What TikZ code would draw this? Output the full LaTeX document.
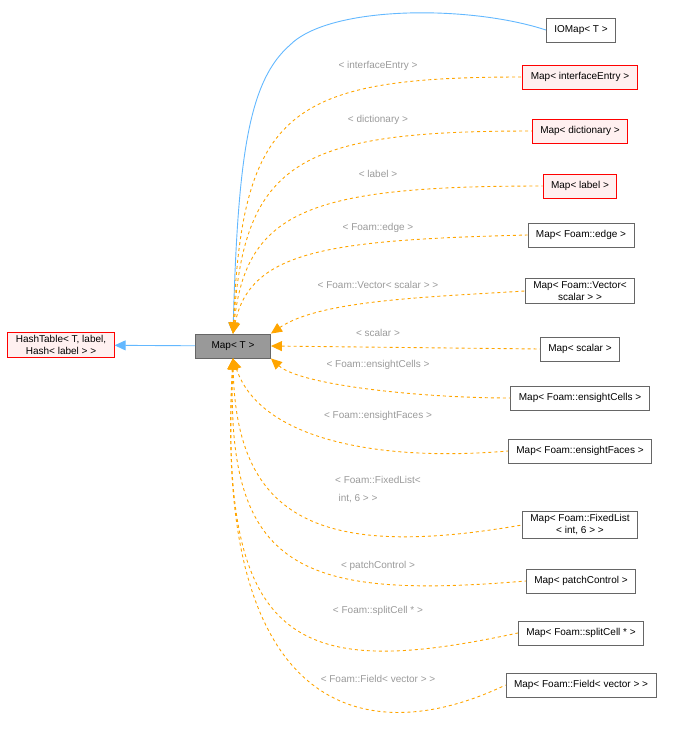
\documentclass[tikz,border=0pt]{standalone}
\usepackage{fontspec}
\setmainfont{Liberation Sans}
\usetikzlibrary{arrows.meta}
\definecolor{redfill}{HTML}{FFF0F0}
\definecolor{edgeor}{HTML}{FFA500}
\definecolor{edgeblue}{HTML}{63B8FF}
\definecolor{lblgray}{HTML}{9A9A9A}
\tikzset{
  cls/.style={draw=black!60,fill=white,line width=0.9pt,font=\fontsize{10}{12}\selectfont,inner xsep=8pt,inner ysep=3pt,minimum height=24pt,align=center},
  redcls/.style={cls,draw=red,fill=redfill},
  tmpl/.style={draw=edgeor,line width=0.9pt,dashed,{Triangle[width=10pt,length=11pt,fill=edgeor]}-},
  lbl/.style={text=lblgray,font=\fontsize{10}{12}\selectfont},
}
\begin{document}
\begin{tikzpicture}[x=1pt,y=-1pt]
\useasboundingbox (0,0) rectangle (683,731);
\node[redcls] (hash) at (61,345) {HashTable< T, label,\\Hash< label > >};
\node[cls,fill=black!40,draw=black!60,minimum width=75pt] (map) at (233,346) {Map< T >};
\node[cls] (iomap) at (581,30) {IOMap< T >};
\node[redcls] (ie) at (580,77) {Map< interfaceEntry >};
\node[redcls] (dict) at (580,131) {Map< dictionary >};
\node[redcls] (label) at (580,186) {Map< label >};
\node[cls] (edge) at (581,235) {Map< Foam::edge >};
\node[cls] (vec) at (580,291) {Map< Foam::Vector<\\scalar > >};
\node[cls] (scal) at (580,349) {Map< scalar >};
\node[cls] (cells) at (580,398) {Map< Foam::ensightCells >};
\node[cls] (faces) at (580,451) {Map< Foam::ensightFaces >};
\node[cls] (fixed) at (580,525) {Map< Foam::FixedList\\< int, 6 > >};
\node[cls] (patch) at (581,581) {Map< patchControl >};
\node[cls] (split) at (581,633) {Map< Foam::splitCell * >};
\node[cls] (field) at (581,685) {Map< Foam::Field< vector > >};

\draw[edgeblue,line width=0.9pt,{Triangle[width=10pt,length=11pt,fill=edgeblue]}-] (hash) -- (map);
\draw[edgeblue,line width=0.9pt,{Triangle[width=10pt,length=11pt,fill=edgeblue]}-] (map.north)
  .. controls (238,150) and (250,80) .. (290,45) .. controls (330,5) and (470,5) .. (iomap.west);
\draw[tmpl] (map.north) .. controls (242,110) and (290,77) .. (ie.west);
\draw[tmpl] (map.north) .. controls (244,160) and (300,131) .. (dict.west);
\draw[tmpl] (map.north) .. controls (246,210) and (310,186) .. (label.west);
\draw[tmpl] (map.north) .. controls (250,250) and (330,240) .. (edge.west);
\draw[tmpl] (map.north east) .. controls (320,300) and (430,297) .. (vec.west);
\draw[tmpl] (map.east) -- (scal.west);
\draw[tmpl] (map.south east) .. controls (300,385) and (420,398) .. (cells.west);
\draw[tmpl] (map.south) .. controls (260,440) and (380,462) .. (faces.west);
\draw[tmpl] (map.south) .. controls (236,520) and (320,560) .. (fixed.west);
\draw[tmpl] (map.south) .. controls (226,570) and (300,600) .. (patch.west);
\draw[tmpl] (map.south) .. controls (218,650) and (300,680) .. (split.west);
\draw[tmpl] (map.south) .. controls (212,720) and (370,750) .. (field.west);

\node[lbl] (lie) at (378,66) {< interfaceEntry >};
\node[lbl] (ldict) at (378,120) {< dictionary >};
\node[lbl] (llabel) at (378,174) {< label >};
\node[lbl] (ledge) at (378,228) {< Foam::edge >};
\node[lbl] (lvec) at (378,285) {< Foam::Vector< scalar > >};
\node[lbl] (lscal) at (378,333) {< scalar >};
\node[lbl] (lcells) at (378,365) {< Foam::ensightCells >};
\node[lbl] (lfaces) at (378,416) {< Foam::ensightFaces >};
\node[lbl] (lfixed) at (378,480) {< Foam::FixedList<};
\node[lbl] (lfixedb) at (358,499) {int, 6 > >};
\node[lbl] (lpatch) at (378,566) {< patchControl >};
\node[lbl] (lsplit) at (378,611) {< Foam::splitCell * >};
\node[lbl] (lfield) at (378,679) {< Foam::Field< vector > >};
\end{tikzpicture}
\end{document}
